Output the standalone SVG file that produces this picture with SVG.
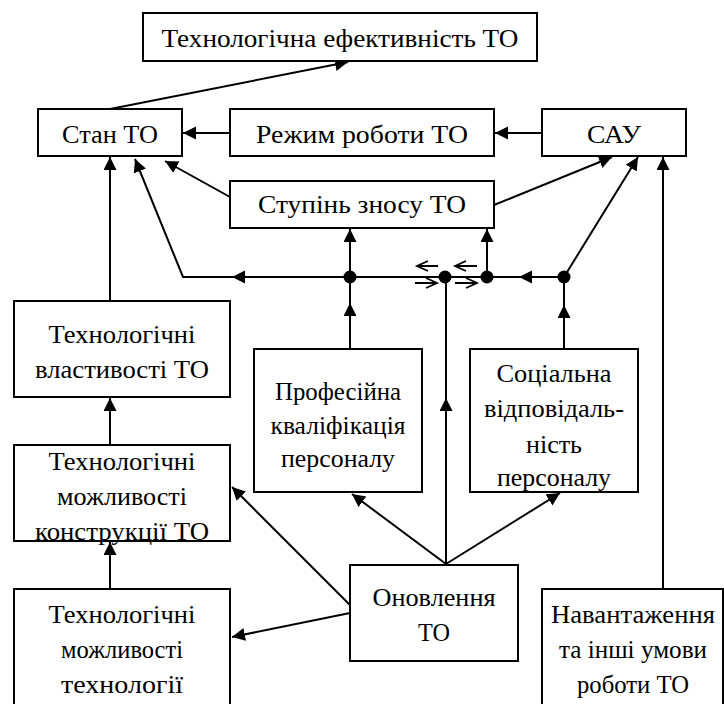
<svg xmlns="http://www.w3.org/2000/svg" width="724" height="704" viewBox="0 0 724 704">
<style>
.box{fill:#fff;stroke:#000;stroke-width:2}
.c{fill:none;stroke:#000;stroke-width:2}
.a{marker-end:url(#ah)}
.sym{fill:none;stroke:#000;stroke-width:1.8}
</style>
<defs>
<marker id="ah" markerUnits="userSpaceOnUse" markerWidth="14" markerHeight="14" refX="13" refY="6.5" orient="auto">
<path d="M0,0 L13,6.5 L0,13 Z" fill="#000"/>
</marker>
</defs>
<rect width="724" height="704" fill="#fff"/>
<g id="connectors">
<path class="c a" d="M110,109 L348,62"/>
<path class="c a" d="M230,133 L183,133"/>
<path class="c a" d="M542,133 L495,133"/>
<path class="c a" d="M230,197 L165,161"/>
<path class="c a" d="M494,205 L612,157"/>
<path class="c a" d="M564,277 L638,157"/>
<path class="c a" d="M663,589 L663,157"/>
<path class="c a" d="M110,301 L110,157"/>
<path class="c a" d="M110,445 L110,398"/>
<path class="c a" d="M110,589 L110,542"/>
<path class="c a" d="M564,277 L519,277"/>
<path class="c" d="M519,277 L350,277"/>
<path class="c a" d="M350,277 L232,277"/>
<path class="c a" d="M232,277 L183,277 L135,159"/>
<path class="c a" d="M350,277 L350,229"/>
<path class="c a" d="M487,277 L487,229"/>
<path class="c a" d="M350,349 L350,303"/>
<path class="c" d="M350,303 L350,277"/>
<path class="c a" d="M564,349 L564,305"/>
<path class="c" d="M564,305 L564,277"/>
<path class="c a" d="M446,565 L446,398"/>
<path class="c" d="M446,398 L446,277"/>
<path class="c a" d="M446,564 L352,494"/>
<path class="c a" d="M446,564 L560,493"/>
<path class="c a" d="M350,605 L232,487"/>
<path class="c a" d="M350,613 L232,637"/>
<circle cx="350" cy="277" r="6.5"/>
<circle cx="445" cy="277" r="6.5"/>
<circle cx="487" cy="277" r="6.5"/>
<circle cx="564" cy="277" r="6.5"/>
<path class="sym" d="M417,266 L438,266 M428,261 L417,266 L428,271"/>
<path class="sym" d="M415,283 L437,283 M426,278 L437,283 L426,288"/>
<path class="sym" d="M455,266 L477,266 M466,261 L455,266 L466,271"/>
<path class="sym" d="M455,283 L477,283 M466,278 L477,283 L466,288"/>
</g>
<g font-family="Liberation Serif, DejaVu Serif, serif" font-size="26" text-anchor="middle" fill="#000">
<g id="n_efekt"><rect class="box" x="143" y="13" width="394" height="48"/><text x="340" y="47" textLength="357" lengthAdjust="spacingAndGlyphs">Технологічна ефективність ТО</text></g>
<g id="n_stan"><rect class="box" x="38" y="109" width="144" height="47"/><text x="110" y="143" textLength="96" lengthAdjust="spacingAndGlyphs">Стан ТО</text></g>
<g id="n_rezhym"><rect class="box" x="230" y="109" width="264" height="47"/><text x="362" y="143" textLength="212" lengthAdjust="spacingAndGlyphs">Режим роботи ТО</text></g>
<g id="n_sau"><rect class="box" x="542" y="109" width="144" height="47"/><text x="614" y="143" textLength="54" lengthAdjust="spacingAndGlyphs">САУ</text></g>
<g id="n_znos"><rect class="box" x="230" y="181" width="264" height="47"/><text x="362" y="213" textLength="208" lengthAdjust="spacingAndGlyphs">Ступінь зносу ТО</text></g>
<g id="n_vlast"><rect class="box" x="14" y="301" width="216" height="96"/><text x="122" y="343" textLength="147" lengthAdjust="spacingAndGlyphs">Технологічні</text><text x="122" y="378" textLength="174" lengthAdjust="spacingAndGlyphs">властивості ТО</text></g>
<g id="n_konstr"><rect class="box" x="14" y="445" width="216" height="96"/><text x="122" y="470" textLength="147" lengthAdjust="spacingAndGlyphs">Технологічні</text><text x="122" y="505" textLength="130" lengthAdjust="spacingAndGlyphs">можливості</text><text x="122" y="540" textLength="174" lengthAdjust="spacingAndGlyphs">конструкції ТО</text></g>
<g id="n_tekhnol"><rect class="box" x="14" y="589" width="216" height="130"/><text x="122" y="623" textLength="147" lengthAdjust="spacingAndGlyphs">Технологічні</text><text x="122" y="658" textLength="122" lengthAdjust="spacingAndGlyphs">можливості</text><text x="122" y="693" textLength="122" lengthAdjust="spacingAndGlyphs">технології</text></g>
<g id="n_prof"><rect class="box" x="254" y="349" width="168" height="143"/><text x="338" y="400" textLength="126" lengthAdjust="spacingAndGlyphs">Професійна</text><text x="338" y="434" textLength="135" lengthAdjust="spacingAndGlyphs">кваліфікація</text><text x="338" y="467" textLength="114" lengthAdjust="spacingAndGlyphs">персоналу</text></g>
<g id="n_soc"><rect class="box" x="470" y="349" width="168" height="143"/><text x="554" y="382" textLength="115" lengthAdjust="spacingAndGlyphs">Соціальна</text><text x="554" y="417" textLength="140" lengthAdjust="spacingAndGlyphs">відповідаль-</text><text x="554" y="453" textLength="56" lengthAdjust="spacingAndGlyphs">ність</text><text x="554" y="486" textLength="114" lengthAdjust="spacingAndGlyphs">персоналу</text></g>
<g id="n_onovl"><rect class="box" x="350" y="565" width="168" height="96"/><text x="434" y="606" textLength="123" lengthAdjust="spacingAndGlyphs">Оновлення</text><text x="434" y="641" textLength="32" lengthAdjust="spacingAndGlyphs">ТО</text></g>
<g id="n_navant"><rect class="box" x="542" y="589" width="181" height="130"/><text x="633" y="623" textLength="164" lengthAdjust="spacingAndGlyphs">Навантаження</text><text x="633" y="658" textLength="148" lengthAdjust="spacingAndGlyphs">та інші умови</text><text x="633" y="693" textLength="112" lengthAdjust="spacingAndGlyphs">роботи ТО</text></g>
</g>
</svg>
